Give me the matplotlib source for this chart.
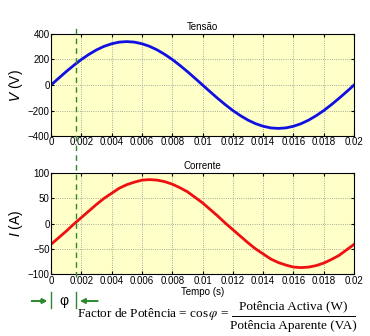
import matplotlib.pyplot as plt
from matplotlib.lines import Line2D

# dados (passo de 0.0005 s)
tempo = [i * 0.0005 for i in range(41)]
tensao = [0, 53, 105, 154, 200, 240, 275, 303, 323, 336, 340,
          336, 323, 303, 275, 240, 200, 154, 105, 53, 0,
          -53, -105, -154, -200, -240, -275, -303, -323, -336, -340,
          -336, -323, -303, -275, -240, -200, -154, -105, -53, 0]
corrente = [-41, -28, -15, -1, 12, 25, 38, 50, 60, 70, 77,
            82, 86, 87, 86, 83, 78, 71, 63, 52, 41,
            28, 15, 1, -12, -25, -38, -50, -60, -70, -77,
            -82, -86, -87, -86, -83, -78, -71, -63, -52, -41]
t_phi = 0.00167
x_ticks = [0, 0.002, 0.004, 0.006, 0.008, 0.01, 0.012, 0.014, 0.016, 0.018, 0.02]
x_labels = ['0', '0.002', '0.004', '0.006', '0.008', '0.01', '0.012',
            '0.014', '0.016', '0.018', '0.02']

plt.rcParams['font.family'] = ['Liberation Sans', 'DejaVu Sans']

fig = plt.figure(figsize=(3.7, 3.36), dpi=100)
ax1 = fig.add_axes([0.138, 0.595, 0.819, 0.304])
ax2 = fig.add_axes([0.138, 0.184, 0.819, 0.301])

verde = '#2a8a2a'


def estilo(ax, yticks, ylabel, titulo):
    ax.set_facecolor('#ffffc8')
    ax.set_xlim(0, 0.02)
    ax.set_xticks(x_ticks)
    ax.set_xticklabels(x_labels)
    ax.set_yticks(yticks)
    ax.set_ylim(yticks[0], yticks[-1])
    ax.tick_params(direction='in', length=2, labelsize=7, top=True, right=True, pad=1)
    ax.grid(True, linestyle=':', color='#909090', linewidth=0.6)
    ax.set_ylabel(ylabel, fontsize=10, labelpad=2)
    ax.set_title(titulo, fontsize=7, pad=3)
    for s in ax.spines.values():
        s.set_linewidth(0.8)


ax1.plot(tempo, tensao, color='#1010e0', linewidth=2)
estilo(ax1, [-400, -200, 0, 200, 400], r'$V$ (V)', 'Tensão')

ax2.plot(tempo, corrente, color='#ee1010', linewidth=2)
estilo(ax2, [-100, -50, 0, 50, 100], r'$I$ (A)', 'Corrente')
ax2.set_xlabel('Tempo (s)', fontsize=7, labelpad=1)

# linha tracejada do ângulo de fase
inv = fig.transFigure.inverted()
xf = inv.transform(ax2.transData.transform((t_phi, 0)))[0]
x0 = inv.transform(ax2.transData.transform((0, 0)))[0]
fig.add_artist(Line2D([xf, xf], [0.176, 0.917], color=verde, linestyle=(0, (4, 3)), linewidth=1))

# marcação φ
y_a = 1 - 301 / 336
for x in (x0, xf):
    fig.add_artist(Line2D([x, x], [1 - 308 / 336, 1 - 292 / 336], color=verde, linewidth=1))
fig.add_artist(plt.annotate('', xy=(x0 - 0.003, y_a), xytext=(x0 - 0.06, y_a),
                            xycoords='figure fraction',
                            arrowprops=dict(arrowstyle='-|>', color=verde, lw=1.2, mutation_scale=7)))
fig.add_artist(plt.annotate('', xy=(xf + 0.003, y_a), xytext=(xf + 0.065, y_a),
                            xycoords='figure fraction',
                            arrowprops=dict(arrowstyle='-|>', color=verde, lw=1.2, mutation_scale=7)))
fig.text((x0 + xf) / 2, y_a, 'φ', ha='center', va='center', fontsize=10)

# fórmula do factor de potência
serif = ['Liberation Serif', 'DejaVu Serif']
fig.text(229 / 370, 1 - 314 / 336, r'Factor de Potência = cos$\,\varphi$ =', ha='right',
         va='center', fontsize=9.5, family=serif, math_fontfamily='stix')
fig.text(293 / 370, 1 - 306 / 336, 'Potência Activa (W)', ha='center', va='center',
         fontsize=9.5, family=serif)
fig.text(293 / 370, 1 - 326 / 336, 'Potência Aparente (VA)', ha='center', va='center',
         fontsize=9.5, family=serif)
fig.add_artist(Line2D([232 / 370, 355 / 370], [1 - 316 / 336, 1 - 316 / 336],
                      color='black', linewidth=0.7))

fig.savefig('out.png', dpi=100)
